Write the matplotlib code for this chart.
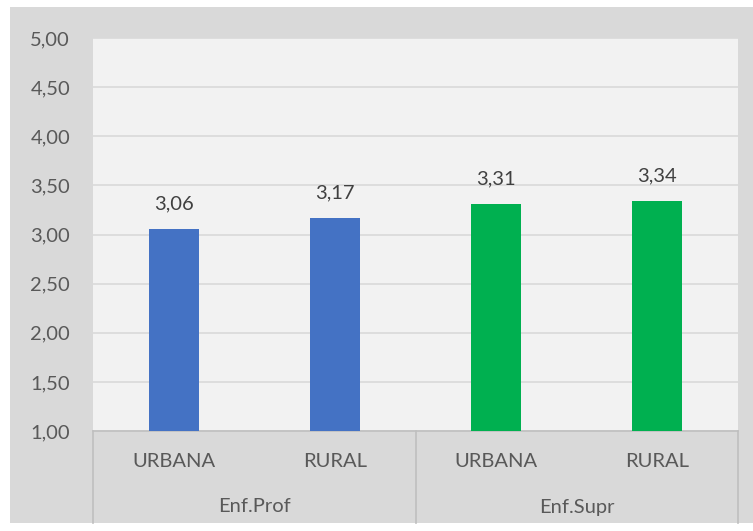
import numpy as np
import matplotlib.pyplot as plt
from matplotlib.patches import Rectangle
from matplotlib.ticker import FuncFormatter

# dados
grupos = ['Enf.Prof', 'Enf.Supr']
zonas = ['URBANA', 'RURAL', 'URBANA', 'RURAL']
valores = [3.06, 3.17, 3.31, 3.34]
cores = ['#4472C4', '#4472C4', '#00B050', '#00B050']

plt.rcParams['font.family'] = ['Lato', 'DejaVu Sans']
W, H = 753, 531
fs = 14.5
fig = plt.figure(figsize=(W / 100, H / 100), dpi=100, facecolor='white')

# fundo cinza do grafico
fig.patches.append(Rectangle((10 / W, 1 - 523 / H), 743 / W, 516 / H,
                             transform=fig.transFigure, facecolor='#D9D9D9',
                             edgecolor='none', zorder=-1))

ax = fig.add_axes([93 / W, 1 - 431 / H, 645 / W, 393 / H])
ax.set_zorder(1)
ax.set_facecolor('#F2F2F2')

x = np.arange(len(valores))
ax.bar(x, valores, width=0.31, color=cores, bottom=0, zorder=3)
for xi, v in zip(x, valores):
    ax.annotate(f'{v:.2f}'.replace('.', ','), (xi, v), xytext=(0, 12),
                textcoords='offset points', ha='center', va='bottom',
                fontsize=fs, color='#404040', zorder=4)

ax.set_ylim(1, 5)
ax.set_xlim(-0.5, 3.5)
ax.set_yticks(np.arange(1, 5.01, 0.5))
ax.yaxis.set_major_formatter(FuncFormatter(lambda v, p: f'{v:.2f}'.replace('.', ',')))
ax.grid(axis='y', color='#D9D9D9', linewidth=1.2, zorder=0)
ax.tick_params(axis='y', length=0, pad=16.5, labelsize=fs, labelcolor='#595959')

ax.set_xticks(x)
ax.set_xticklabels(zonas)
ax.tick_params(axis='x', length=0, pad=16, labelsize=fs, labelcolor='#595959')

for s in ['top', 'right', 'left']:
    ax.spines[s].set_visible(False)
ax.spines['bottom'].set_color('#BFBFBF')
ax.spines['bottom'].set_linewidth(1.2)

# separadores das categorias
trans = ax.get_xaxis_transform()
y_fim = -(523 - 431) / 393
for xs in [-0.5, 1.5, 3.5]:
    ax.plot([xs, xs], [0, y_fim], transform=trans, color='#BFBFBF',
            linewidth=1.2, clip_on=False)

for i, g in enumerate(grupos):
    ax.text(2 * i + 0.5, -(507 - 431) / 393, g, transform=trans, ha='center',
            va='center', fontsize=fs, color='#595959')

fig.savefig('out.png', dpi=100, facecolor='white')
